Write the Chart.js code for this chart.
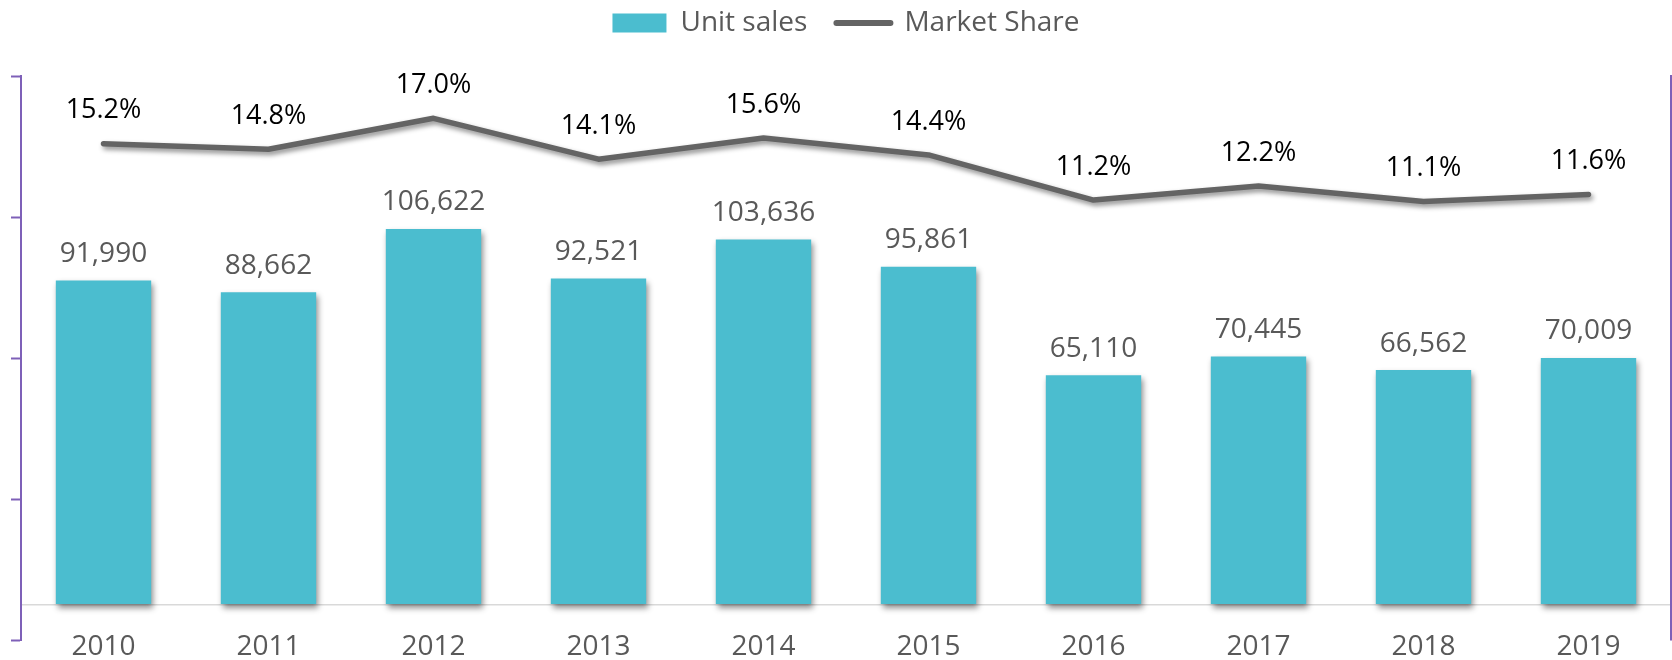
<!DOCTYPE html>
<html>
<head>
<meta charset="utf-8">
<script src="https://cdn.jsdelivr.net/npm/chart.js@4.4.1/dist/chart.umd.min.js"></script>
<style>
  html, body { margin: 0; padding: 0; background: #ffffff; }
  #wrap { width: 1672px; height: 660px; position: relative; }
</style>
</head>
<body>
<div id="wrap"><canvas id="c" width="1672" height="660"></canvas></div>
<script>
const categories = ['2010', '2011', '2012', '2013', '2014', '2015', '2016', '2017', '2018', '2019'];
const unitSales = [91990, 88662, 106622, 92521, 103636, 95861, 65110, 70445, 66562, 70009];
const marketShare = [15.2, 14.8, 17.0, 14.1, 15.6, 14.4, 11.2, 12.2, 11.1, 11.6];
const seriesNames = ['Unit sales', 'Market Share'];

const BAR_COLOR = '#4bbdcf';
const LINE_COLOR = '#646464';
const PURPLE = '#7e60b8';
const TEXT_GRAY = '#595959';
const FONT = '"Open Sans", "DejaVu Sans", sans-serif';

Chart.defaults.font.family = FONT;

const shadowPlugin = {
  id: 'shadows',
  beforeDatasetDraw(chart, args) {
    const ctx = chart.ctx;
    ctx.save();
    ctx.shadowColor = 'rgba(0,0,0,0.45)';
    if (args.meta.type === 'bar') {
      ctx.shadowOffsetX = 2;
      ctx.shadowOffsetY = 4;
      ctx.shadowBlur = 6;
    } else {
      ctx.shadowOffsetX = 2;
      ctx.shadowOffsetY = 3;
      ctx.shadowBlur = 5;
    }
  },
  afterDatasetDraw(chart) {
    chart.ctx.restore();
  }
};

const labelPlugin = {
  id: 'valueLabels',
  afterDatasetsDraw(chart) {
    const ctx = chart.ctx;
    ctx.save();
    ctx.textAlign = 'center';
    ctx.textBaseline = 'middle';
    chart.data.datasets.forEach((ds, di) => {
      const meta = chart.getDatasetMeta(di);
      meta.data.forEach((el, i) => {
        const v = ds.data[i];
        if (meta.type === 'bar') {
          ctx.font = '28px ' + FONT;
          ctx.fillStyle = TEXT_GRAY;
          ctx.fillText(v.toLocaleString('en-US'), el.x, el.y - 26.5);
        } else {
          ctx.font = '27px ' + FONT;
          ctx.fillStyle = '#000000';
          ctx.fillText(v.toFixed(1) + '%', el.x, el.y - 33);
        }
      });
    });
    ctx.restore();
  }
};

new Chart(document.getElementById('c'), {
  data: {
    labels: categories,
    datasets: [
      {
        type: 'bar',
        label: seriesNames[0],
        data: unitSales,
        backgroundColor: BAR_COLOR,
        borderWidth: 0,
        yAxisID: 'y',
        categoryPercentage: 1,
        barPercentage: 0.578
      },
      {
        type: 'line',
        label: seriesNames[1],
        data: marketShare,
        borderColor: LINE_COLOR,
        backgroundColor: LINE_COLOR,
        borderWidth: 5.5,
        borderCapStyle: 'round',
        borderJoinStyle: 'round',
        pointRadius: 0,
        pointHoverRadius: 0,
        tension: 0,
        fill: false,
        yAxisID: 'y1'
      }
    ]
  },
  options: {
    responsive: false,
    animation: false,
    devicePixelRatio: 1,
    layout: { padding: { left: 11, right: 1, top: -20, bottom: 20 } },
    plugins: {
      tooltip: { enabled: false },
      title: {
        display: true,
        text: '',
        weight: 500,
        padding: 0,
        font: { size: 29, lineHeight: 1 }
      },
      legend: {
        position: 'top',
        fullSize: false,
        labels: {
          usePointStyle: true,
          pointStyleWidth: 54,
          boxHeight: 19,
          padding: 29,
          color: TEXT_GRAY,
          font: { size: 28, family: FONT },
          generateLabels(chart) {
            return chart.data.datasets.map((ds, i) => ({
              text: ds.label,
              fillStyle: ds.type === 'bar' ? BAR_COLOR : LINE_COLOR,
              strokeStyle: ds.type === 'bar' ? BAR_COLOR : LINE_COLOR,
              lineWidth: ds.type === 'bar' ? 0 : 6,
              lineCap: 'round',
              pointStyle: ds.type === 'bar' ? 'rect' : 'line',
              fontColor: TEXT_GRAY,
              hidden: false,
              datasetIndex: i
            }));
          }
        }
      }
    },
    scales: {
      x: {
        grid: { display: false, drawTicks: false },
        border: { display: false },
        ticks: {
          color: TEXT_GRAY,
          mirror: true,
          padding: -7,
          font: { size: 28, family: FONT, lineHeight: 0.02 }
        }
      },
      y: {
        position: 'right',
        min: -10000,
        max: 150000,
        ticks: { display: false, stepSize: 10000 },
        grid: {
          drawTicks: false,
          lineWidth: 1.5,
          color: (c) => (c.tick && c.tick.value === 0) ? '#d9d9d9' : 'rgba(0,0,0,0)'
        },
        border: { display: true, color: PURPLE, width: 2 }
      },
      y1: {
        position: 'left',
        min: -20,
        max: 20,
        ticks: { display: false, stepSize: 10 },
        grid: {
          drawOnChartArea: false,
          drawTicks: true,
          tickLength: 10,
          tickColor: PURPLE,
          tickWidth: 2
        },
        border: { display: true, color: PURPLE, width: 2 }
      }
    }
  },
  plugins: [shadowPlugin, labelPlugin]
});
</script>
</body>
</html>
